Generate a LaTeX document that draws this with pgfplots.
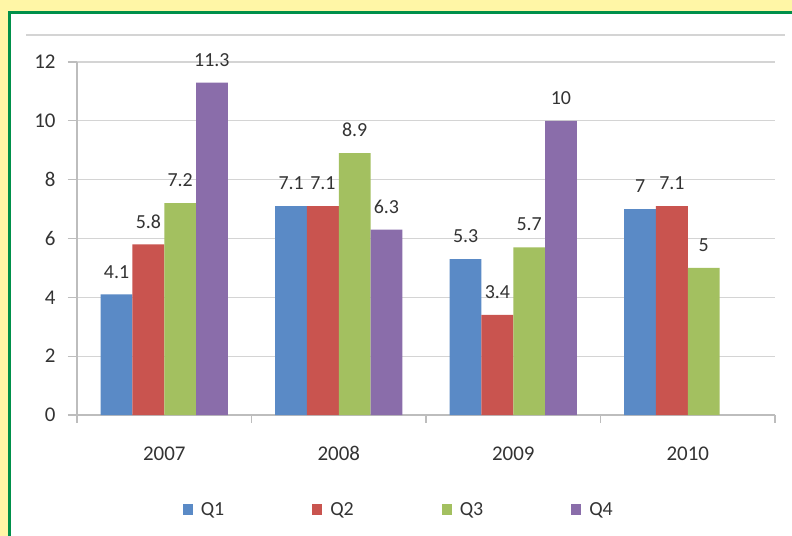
\documentclass[border=0pt]{standalone}
\usepackage{fontspec}
\setmainfont{Carlito}
\usepackage{pgfplots}
\pgfplotsset{compat=1.18}
\definecolor{bgyellow}{HTML}{FFF6A6}
\definecolor{framegreen}{HTML}{00904A}
\definecolor{cQ1}{HTML}{5A8AC6}
\definecolor{cQ2}{HTML}{C9544F}
\definecolor{cQ3}{HTML}{A3C060}
\definecolor{cQ4}{HTML}{8A6DAA}
\definecolor{gridgray}{HTML}{D4D4D4}
\definecolor{axisgray}{HTML}{BDBDBD}
\definecolor{txt}{HTML}{333333}
\begin{document}
\begin{tikzpicture}
\path[use as bounding box] (0,0) rectangle (792bp,536bp);
\fill[bgyellow] (0,0) rectangle (792bp,536bp);
\filldraw[fill=white,draw=framegreen,line width=3bp] (9.5bp,-10bp) rectangle (805bp,523bp);
\draw[gridgray,line width=1.3bp] (26bp,501bp) -- (785bp,501bp);
\begin{axis}[
  at={(77bp,121bp)}, anchor=south west,
  scale only axis, width=698bp, height=353bp,
  xmin=-0.5, xmax=3.5, ymin=0, ymax=12,
  ytick={0,2,...,12},
  xtick={0,1,2,3},
  xticklabels={2007,2008,2009,2010},
  minor xtick={-0.5,0.5,1.5,2.5,3.5},
  axis x line=bottom, axis y line=left,
  axis line style={draw=axisgray,line width=1.2bp,-},
  ymajorgrids, major grid style={draw=gridgray,line width=1.2bp},
  tick align=outside,
  major tick length=9bp, minor tick length=8bp,
  xtick style={draw=none},
  ytick style={draw=axisgray,line width=1.2bp},
  minor x tick style={draw=axisgray,line width=1.2bp},
  tick label style={font=\fontsize{21}{24}\selectfont, text=txt},
  yticklabel style={xshift=-9bp},
  xticklabel style={yshift=-19bp},
  /pgf/number format/assume math mode=true,
  ybar=0pt, bar width=0.182,
  clip=false,
  nodes near coords,
  every node near coord/.append style={font=\fontsize{20}{23}\selectfont, text=txt, anchor=south, inner sep=0pt, yshift=16bp},
  legend columns=4,
  legend style={at={(0.461,-0.269)}, anchor=center, draw=none, fill=none,
    font=\fontsize{20}{23}\selectfont, text=txt,
    /tikz/every even column/.append style={column sep=86bp}},
  legend image code/.code={\fill[#1,draw=none] (0bp,-5bp) rectangle (10bp,6bp); \path (16bp,0bp);},
]
\addplot[fill=cQ1,draw=none] coordinates {(0,4.1) (1,7.1) (2,5.3) (3,7)};
\addplot[fill=cQ2,draw=none] coordinates {(0,5.8) (1,7.1) (2,3.4) (3,7.1)};
\addplot[fill=cQ3,draw=none] coordinates {(0,7.2) (1,8.9) (2,5.7) (3,5)};
\addplot[fill=cQ4,draw=none] coordinates {(0,11.3) (1,6.3) (2,10)};
\legend{Q1,Q2,Q3,Q4}
\end{axis}
\end{tikzpicture}
\end{document}
